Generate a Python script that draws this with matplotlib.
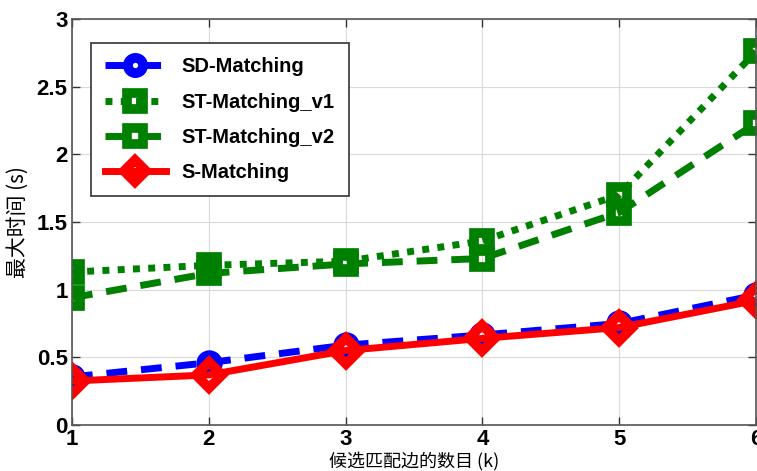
import matplotlib
matplotlib.use('Agg')
import matplotlib.pyplot as plt

# 候选匹配边的数目 k 与各算法的最大时间 (s)
k = [1, 2, 3, 4, 5, 6]
sd_matching = [0.355, 0.46, 0.59, 0.665, 0.75, 0.96]
st_matching_v1 = [1.13, 1.18, 1.21, 1.36, 1.70, 2.76]
st_matching_v2 = [0.94, 1.12, 1.19, 1.23, 1.57, 2.23]
s_matching = [0.325, 0.37, 0.55, 0.64, 0.72, 0.92]

xticks = [1, 2, 3, 4, 5, 6]
yticks = [0, 0.5, 1, 1.5, 2, 2.5, 3]
ytick_labels = ['0', '0.5', '1', '1.5', '2', '2.5', '3']

cjk = ['Noto Sans CJK SC', 'DejaVu Sans']
num_font = ['Liberation Sans Narrow', 'Liberation Sans', 'DejaVu Sans']

fig = plt.figure(figsize=(7.57, 4.71), dpi=100)
ax = fig.add_axes([0.095, 0.0977, 0.9037, 0.862])

ax.plot(k, sd_matching, color='#0000ff', ls=(0, (3, 2)), lw=5,
        marker='o', ms=12, mfc='none', mew=7, label='SD-Matching')
ax.plot(k, st_matching_v1, color='#008000', ls=(0, (1, 1.2)), lw=5,
        marker='s', ms=12, mfc='none', mew=7, label='ST-Matching_v1')
ax.plot(k, st_matching_v2, color='#008000', ls=(0, (3, 2)), lw=5,
        marker='s', ms=12, mfc='none', mew=7, label='ST-Matching_v2')
ax.plot(k, s_matching, color='#ff0000', ls='-', lw=5,
        marker='D', ms=13, mfc='none', mew=7, label='S-Matching')

ax.set_xlim(1, 6)
ax.set_ylim(0, 3)
ax.set_xticks(xticks)
ax.set_yticks(yticks)
ax.set_yticklabels(ytick_labels)
ax.grid(True, color='#d9d9d9', lw=0.8)
ax.set_axisbelow(True)
ax.tick_params(direction='in', top=True, right=True, length=6,
               width=1, color='#333333', pad=3)
for lab in ax.get_xticklabels() + ax.get_yticklabels():
    lab.set_family(num_font)
    lab.set_fontweight('bold')
    lab.set_fontsize(16)
for sp in ax.spines.values():
    sp.set_color('#555555')
    sp.set_linewidth(1.2)

ax.set_xlabel('候选匹配边的数目 (k)', family=cjk, fontsize=13, labelpad=1)
ax.set_ylabel('最大时间 (s)', family=cjk, fontsize=15, labelpad=6)

leg = ax.legend(loc='upper left', bbox_to_anchor=(0.028, 0.94),
                handlelength=3.0, handletextpad=0.8, labelspacing=0.8,
                borderpad=0.7, borderaxespad=0, fancybox=False,
                framealpha=1, edgecolor='#333333',
                prop={'family': 'Liberation Sans', 'weight': 'bold',
                      'size': 14.5})
leg.get_frame().set_linewidth(1.2)
for h in leg.legend_handles:
    h.set_markersize(11)

fig.savefig('out.png', dpi=100)
